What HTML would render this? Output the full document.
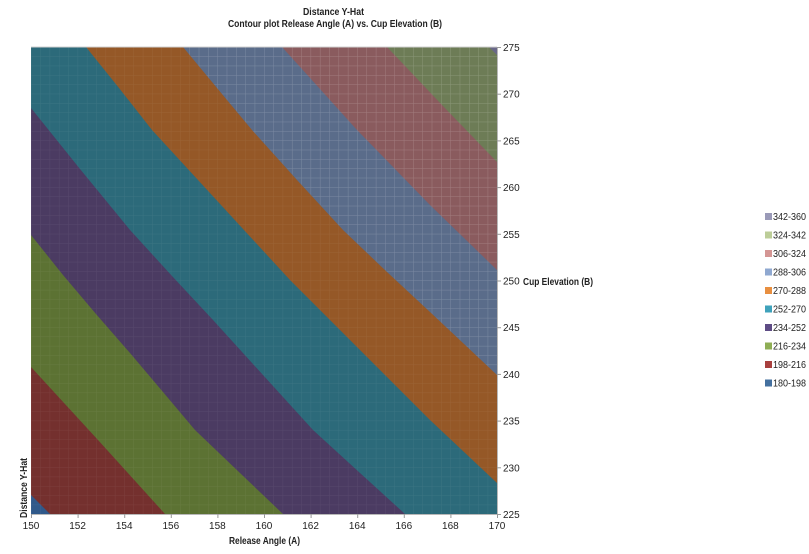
<!DOCTYPE html>
<html><head><meta charset="utf-8"><style>
html,body{margin:0;padding:0;background:#fff;}
svg{display:block;}
text{font-family:"Liberation Sans",sans-serif;fill:#222;}
</style></head><body>
<svg width="809" height="554" viewBox="0 0 809 554" xmlns="http://www.w3.org/2000/svg">
<defs>
<pattern id="grid" patternUnits="userSpaceOnUse" x="31" y="47" width="9.32" height="9.34">
<path d="M0,0 L0,9.34 M0,0 L9.32,0" stroke="#ffffff" stroke-width="1" fill="none"/>
</pattern>
<clipPath id="plot"><rect x="31" y="47" width="466" height="467"/></clipPath>
<clipPath id="hi"><path d="M183,47 L252,130 L343,230 L430,312 L497,375 L497,47 Z"/></clipPath>
</defs>
<text x="333.5" y="15" text-anchor="middle" font-size="10" font-weight="bold" textLength="61" lengthAdjust="spacingAndGlyphs">Distance  Y-Hat</text>
<text x="335" y="27" text-anchor="middle" font-size="10" font-weight="bold" textLength="214" lengthAdjust="spacingAndGlyphs">Contour plot Release Angle (A) vs. Cup Elevation (B)</text>
<g clip-path="url(#plot)">
<rect x="31" y="47" width="466" height="467" fill="#30598a"/>
<path d="M31,495 L50,514 L497,514 L497,47 L31,47 Z" fill="#74302e"/>
<path d="M31,367 L98,440 L165,514 L497,514 L497,47 L31,47 Z" fill="#5c7233"/>
<path d="M31,235 L63,275 L96,314 L130,353 L163,392 L195,430 L240,473 L283,514 L497,514 L497,47 L31,47 Z" fill="#4b3b62"/>
<path d="M31,108 L80,169 L130,230 L172,276 L213,320 L263,375 L313,430 L360,473 L405,514 L497,514 L497,47 L31,47 Z" fill="#2c6a7a"/>
<path d="M86,47 L119,88 L152,130 L221,205 L290,280 L360,350 L430,420 L497,483 L497,47 Z" fill="#955827"/>
<path d="M183,47 L217,88 L252,130 L297,180 L343,230 L387,272 L430,312 L497,375 L497,47 Z" fill="#5a6c8a"/>
<path d="M282,47 L320,89 L357,130 L430,205 L497,270 L497,47 Z" fill="#8a5b5e"/>
<path d="M387,47 L442,105 L497,162 L497,47 Z" fill="#6d7c56"/>
<path d="M489,47 L497,55 L497,47 Z" fill="#6a6888"/>
<rect x="31" y="47" width="466" height="467" fill="url(#grid)" opacity="0.07"/>
<rect x="31" y="47" width="466" height="467" fill="url(#grid)" opacity="0.14" clip-path="url(#hi)"/>
</g>
<line x1="31" y1="47" x2="497" y2="47" stroke="#d0d0d0" stroke-width="1"/>
<line x1="497.5" y1="47" x2="497.5" y2="514" stroke="#b8b8b8" stroke-width="1"/>
<line x1="31" y1="514.5" x2="497" y2="514.5" stroke="#b8b8b8" stroke-width="1"/>
<g stroke="#999" stroke-width="1">
<line x1="497" y1="47.5" x2="501" y2="47.5"/>
<line x1="497" y1="94.2" x2="501" y2="94.2"/>
<line x1="497" y1="140.9" x2="501" y2="140.9"/>
<line x1="497" y1="187.6" x2="501" y2="187.6"/>
<line x1="497" y1="234.3" x2="501" y2="234.3"/>
<line x1="497" y1="281" x2="501" y2="281"/>
<line x1="497" y1="327.7" x2="501" y2="327.7"/>
<line x1="497" y1="374.4" x2="501" y2="374.4"/>
<line x1="497" y1="421.1" x2="501" y2="421.1"/>
<line x1="497" y1="467.8" x2="501" y2="467.8"/>
<line x1="497" y1="514.5" x2="501" y2="514.5"/>
<line x1="31.5" y1="514" x2="31.5" y2="518"/>
<line x1="78.1" y1="514" x2="78.1" y2="518"/>
<line x1="124.7" y1="514" x2="124.7" y2="518"/>
<line x1="171.3" y1="514" x2="171.3" y2="518"/>
<line x1="217.9" y1="514" x2="217.9" y2="518"/>
<line x1="264.5" y1="514" x2="264.5" y2="518"/>
<line x1="311.1" y1="514" x2="311.1" y2="518"/>
<line x1="357.7" y1="514" x2="357.7" y2="518"/>
<line x1="404.3" y1="514" x2="404.3" y2="518"/>
<line x1="450.9" y1="514" x2="450.9" y2="518"/>
<line x1="497.5" y1="514" x2="497.5" y2="518"/>
</g>
<g font-size="10">
<text x="503" y="51">275</text>
<text x="503" y="97.7">270</text>
<text x="503" y="144.4">265</text>
<text x="503" y="191.1">260</text>
<text x="503" y="237.8">255</text>
<text x="503" y="284.5">250</text>
<text x="503" y="331.2">245</text>
<text x="503" y="377.9">240</text>
<text x="503" y="424.6">235</text>
<text x="503" y="471.3">230</text>
<text x="503" y="518">225</text>
</g>
<g font-size="10" text-anchor="middle">
<text x="31" y="529">150</text>
<text x="77.6" y="529">152</text>
<text x="124.2" y="529">154</text>
<text x="170.8" y="529">156</text>
<text x="217.4" y="529">158</text>
<text x="264" y="529">160</text>
<text x="310.6" y="529">162</text>
<text x="357.2" y="529">164</text>
<text x="403.8" y="529">166</text>
<text x="450.4" y="529">168</text>
<text x="497" y="529">170</text>
</g>
<text x="523" y="285" font-size="10" font-weight="bold" textLength="70" lengthAdjust="spacingAndGlyphs">Cup Elevation  (B)</text>
<text x="229" y="544" font-size="10" font-weight="bold" textLength="71" lengthAdjust="spacingAndGlyphs">Release Angle (A)</text>
<text transform="translate(27,518) rotate(-90)" font-size="10" font-weight="bold" textLength="60" lengthAdjust="spacingAndGlyphs">Distance  Y-Hat</text>
<g font-size="10">
<rect x="765" y="213" width="7" height="7" fill="#9a9ab8"/><text x="773" y="220" textLength="33" lengthAdjust="spacingAndGlyphs">342-360</text>
<rect x="765" y="231.5" width="7" height="7" fill="#bccd98"/><text x="773" y="238.5" textLength="33" lengthAdjust="spacingAndGlyphs">324-342</text>
<rect x="765" y="250" width="7" height="7" fill="#d49694"/><text x="773" y="257" textLength="33" lengthAdjust="spacingAndGlyphs">306-324</text>
<rect x="765" y="268.5" width="7" height="7" fill="#8fa8d0"/><text x="773" y="275.5" textLength="33" lengthAdjust="spacingAndGlyphs">288-306</text>
<rect x="765" y="287" width="7" height="7" fill="#e88f40"/><text x="773" y="294" textLength="33" lengthAdjust="spacingAndGlyphs">270-288</text>
<rect x="765" y="305.5" width="7" height="7" fill="#3fa2bb"/><text x="773" y="312.5" textLength="33" lengthAdjust="spacingAndGlyphs">252-270</text>
<rect x="765" y="324" width="7" height="7" fill="#5e4c85"/><text x="773" y="331" textLength="33" lengthAdjust="spacingAndGlyphs">234-252</text>
<rect x="765" y="342.5" width="7" height="7" fill="#8fae55"/><text x="773" y="349.5" textLength="33" lengthAdjust="spacingAndGlyphs">216-234</text>
<rect x="765" y="361" width="7" height="7" fill="#a8403e"/><text x="773" y="368" textLength="33" lengthAdjust="spacingAndGlyphs">198-216</text>
<rect x="765" y="379.5" width="7" height="7" fill="#44709f"/><text x="773" y="386.5" textLength="33" lengthAdjust="spacingAndGlyphs">180-198</text>
</g>
</svg>
</body></html>
